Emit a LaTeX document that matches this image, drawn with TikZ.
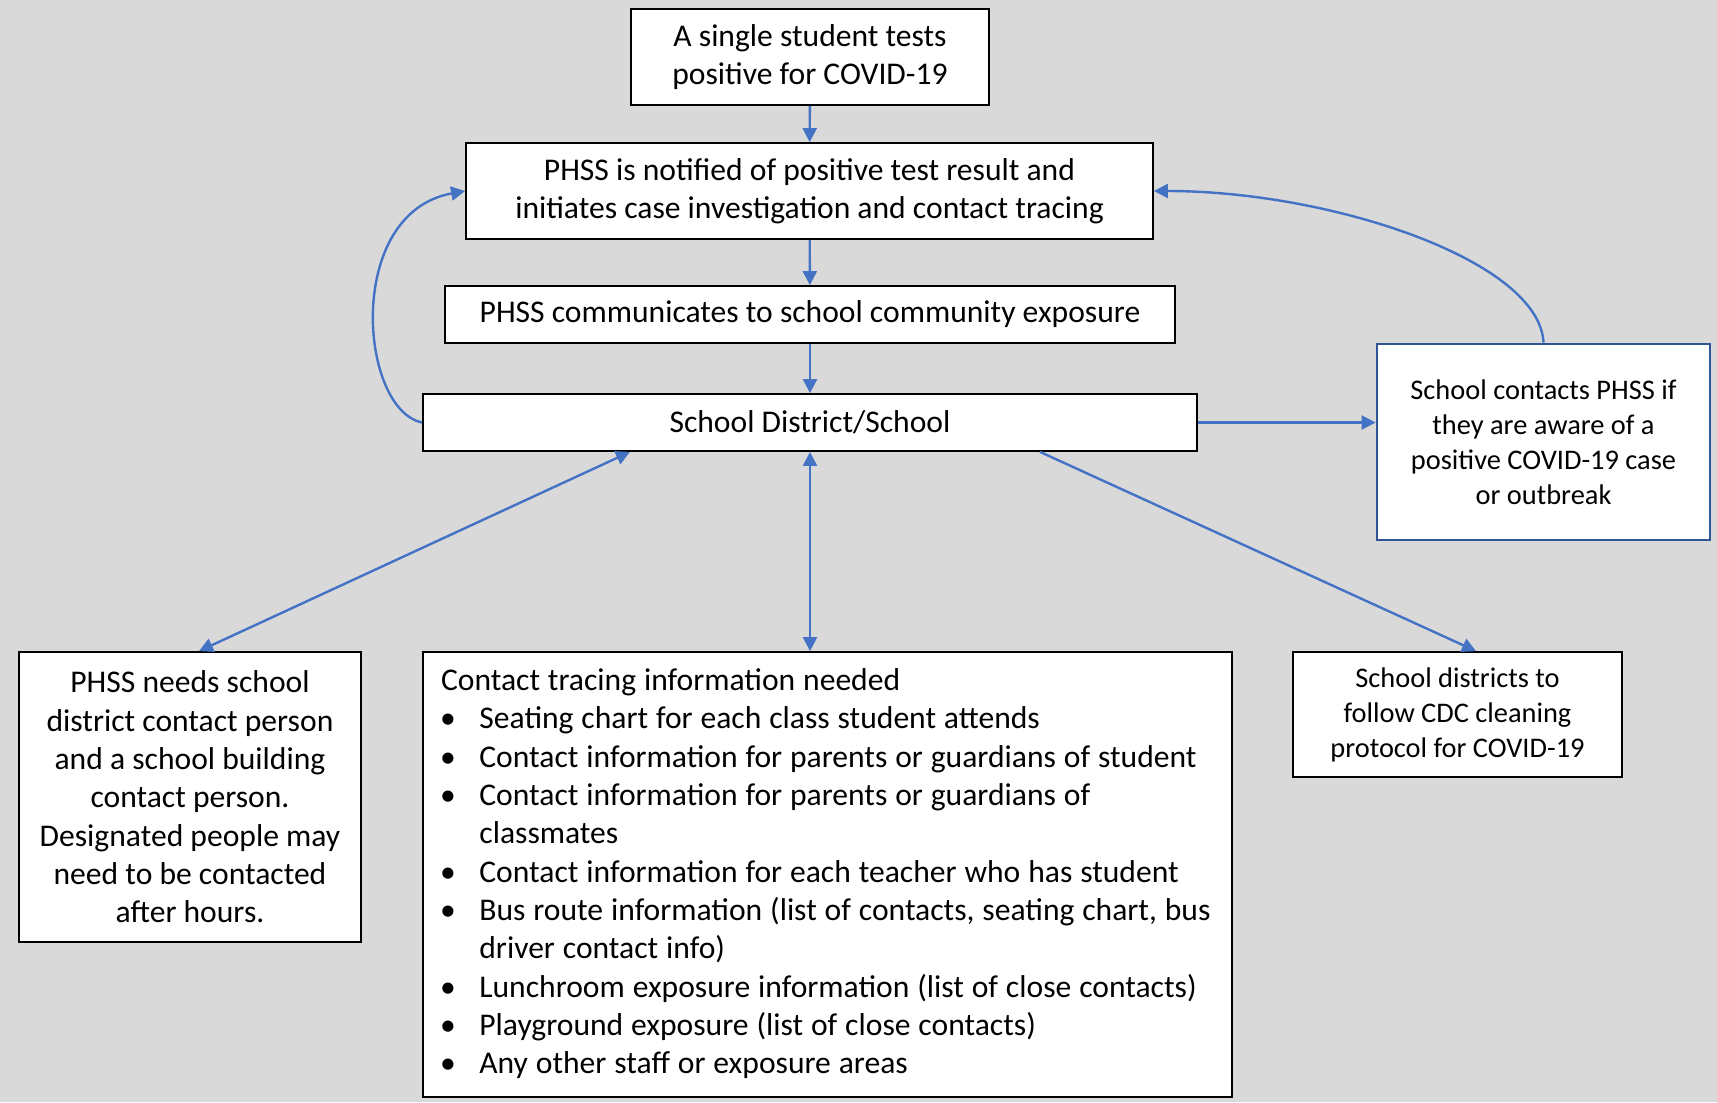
\documentclass[tikz,border=0pt]{standalone}
\usepackage{fontspec}
\setmainfont{Carlito}
\usetikzlibrary{arrows.meta}
\definecolor{arrowblue}{HTML}{4472C4}
\definecolor{boxblue}{HTML}{2F5597}
\definecolor{backgray}{HTML}{D9D9D9}

\def\bodyfont{\fontsize{15.8pt}{19.15pt}\selectfont}
\def\notefont{\fontsize{14.2pt}{17.5pt}\selectfont}
\def\blt{\hspace{-0.5pt}\textbullet}

\begin{document}
\begin{tikzpicture}[x=0.5pt,y=-0.5pt,>={Triangle[length=7pt,width=7pt]},
	box/.style={draw=black,line width=0.9pt,fill=white,inner sep=0pt,align=center,font=\bodyfont},
	link/.style={color=arrowblue,line width=1.2pt}]
\fill[color=backgray] (0,0) rectangle (1717,1102);
\useasboundingbox (0,0) rectangle (1717,1102);

\node (test) at (810,57) [box,minimum width=179pt,minimum height=48pt]
	{A single student tests\\positive for COVID-19};
\node (notif) at (809.5,191) [box,minimum width=343.5pt,minimum height=48pt]
	{PHSS is notified of positive test result and\\initiates case investigation and contact tracing};
\node (comm) at (810,314.5) [box,minimum width=365pt,minimum height=28.5pt]
	{PHSS communicates to school community exposure};
\node (sd) at (810,422.5) [box,minimum width=387pt,minimum height=28.5pt]
	{School District/School};
\node (ctc) at (1543.5,442) [box,draw=boxblue,line width=1.4pt,font=\notefont,minimum width=166.5pt,minimum height=98pt]
	{School contacts PHSS if\\they are aware of a\\positive COVID-19 case\\or outbreak};
\node (needs) at (190,797) [box,minimum width=171pt,minimum height=145pt]
	{PHSS needs school\\district contact person\\and a school building\\contact person.\\Designated people may\\need to be contacted\\after hours.};
\node (info) at (827.5,874.5) [box,align=left,text width=386.5pt,inner xsep=9pt,minimum height=222.5pt]
	{\spaceskip=3.95pt plus 1pt\relax
	\begin{tabular}{@{}p{19.2pt}@{}l@{}}
	\multicolumn{2}{@{}l@{}}{Contact tracing information needed}\\
	\blt & Seating chart for each class student attends\\
	\blt & Contact information for parents or guardians of student\\
	\blt & Contact information for parents or guardians of\\
	     & classmates\\
	\blt & Contact information for each teacher who has student\\
	\blt & Bus route information (list of contacts, seating chart, bus\\
	     & driver contact info)\\
	\blt & Lunchroom exposure information (list of close contacts)\\
	\blt & Playground exposure (list of close contacts)\\
	\blt & Any other staff or exposure areas
	\end{tabular}};
\node (clean) at (1457.5,714.5) [box,font=\notefont,minimum width=164.5pt,minimum height=62.5pt]
	{School districts to\\follow CDC cleaning\\protocol for COVID-19};

\draw[link,->] (test) -- (notif);
\draw[link,->] (notif) -- (comm);
\draw[link,->] (comm) -- (sd);
\draw[link,->] (sd.west) .. controls +(-63,-13) and +(-121,22) .. (notif.west);
\draw[link,->] (ctc.north) .. controls +(-4,-82) and +(177,0) .. (notif.east);
\draw[link,->] (sd.east) -- (sd.east -| ctc.west);
\draw[link,<->] ([xshift=-90pt]sd.south) -- ([xshift=4.5pt]needs.north);
\draw[link,<->] (sd.south) -- (sd.south |- info.north);
\draw[link,->] ([xshift=115pt]sd.south) -- ([xshift=9.25pt]clean.north);

\end{tikzpicture}
\end{document}
